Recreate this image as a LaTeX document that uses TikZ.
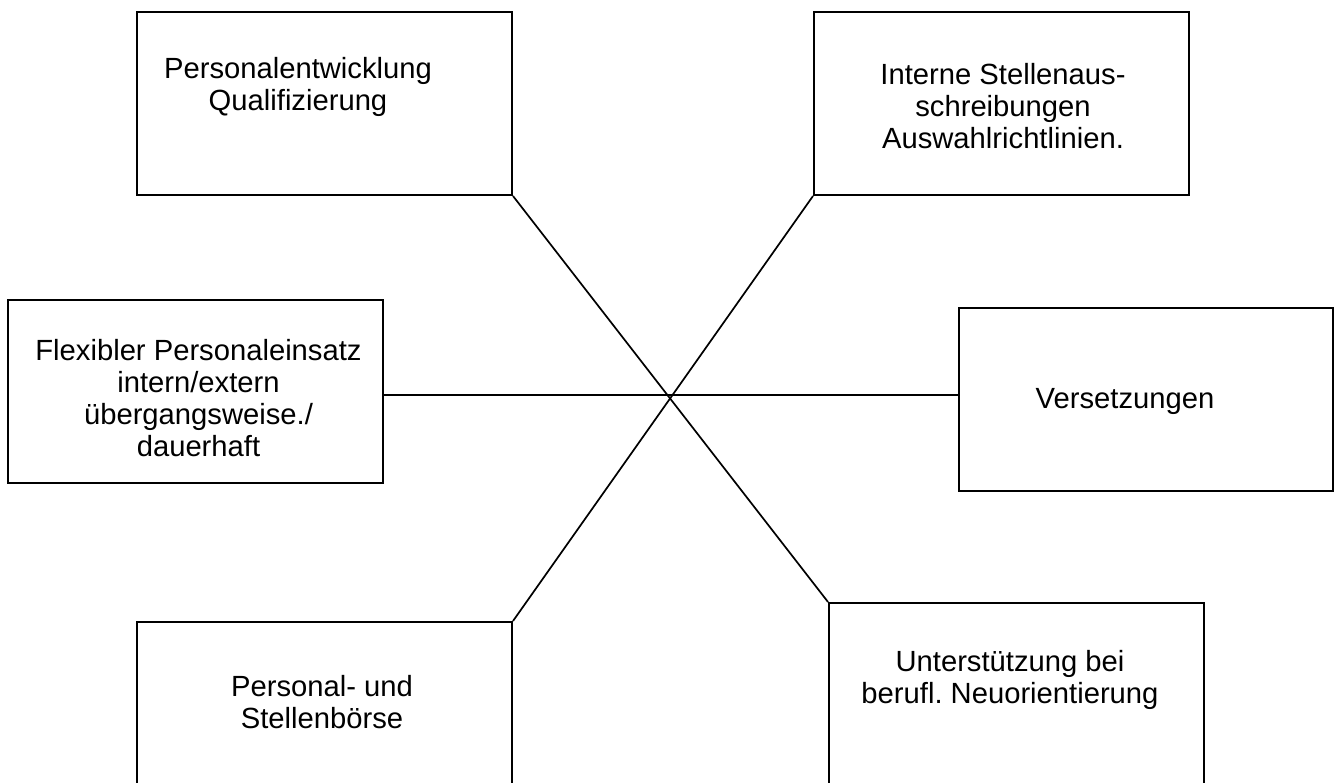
\documentclass[tikz,border=0pt]{standalone}
\usepackage{fontspec}
\setmainfont{Liberation Sans}
\frenchspacing
\begin{document}
\begin{tikzpicture}[x=1pt,y=-1pt,
  box/.style={draw, line width=2pt, rectangle, minimum width=375pt, minimum height=183pt, inner sep=0pt},
  lbl/.style={align=center, font=\fontsize{29.2}{32}\selectfont, inner sep=0pt},
  link/.style={line width=1.7pt}]
\useasboundingbox (0,0) rectangle (1335,783);
\clip (0,0) rectangle (1335,783);
\node[box] (b1) at (324.5,103.5) {};
\node[box] (b2) at (1001.5,103.5) {};
\node[box] (b3) at (195,391.5) {};
\node[box, minimum width=374pt] (b4) at (1146,399.5) {};
\node[box] (b5) at (324.5,713.5) {};
\node[box] (b6) at (1016.5,694.5) {};
\node[lbl] (t1) at (298,86.5) {Personalentwicklung\\Qualifizierung};
\node[lbl] (t2) at (1003,106) {Interne Stellenaus-\\schreibungen\\Auswahlrichtlinien.};
\node[lbl] (t3) at (198.5,398.5) {Flexibler Personaleinsatz\\intern/extern\\übergangsweise./\\dauerhaft};
\node[lbl, anchor=base] (t4) at (1125,408) {Versetzungen};
\node[lbl] (t5) at (322,702) {Personal- und\\Stellenbörse};
\node[lbl] (t6) at (1010,679.5) {Unterstützung bei\\berufl. Neuorientierung};
\coordinate (c) at (668,395);
\draw[link] (b3.east |- c) -- (b4.west |- c);
\draw[link] (b1.south east) -- (b6.north west);
\draw[link] (b2.south west) -- (b5.north east);
\end{tikzpicture}
\end{document}
